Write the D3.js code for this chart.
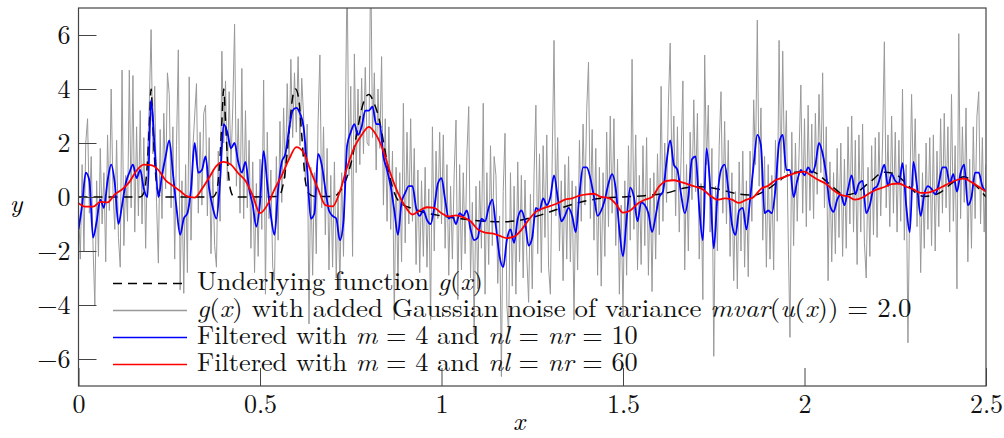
<!DOCTYPE html>
<html>
<head>
<meta charset="utf-8">
<script src="https://cdn.jsdelivr.net/npm/d3@7"></script>
<style>
body { margin: 0; background: #fff; }
text { white-space: pre; }
</style>
</head>
<body>
<div id="chart"></div>
<script>
// sample spacing of the three sampled series
var grayStep = 0.005, blueStep = 0.01, redStep = 0.02;

// g(x) with added noise (x = i * 0.005)
var grayValues = [
  -0.4, -2.3, 1.2, -2.0, 2.0, 2.9, -0.6, 1.5, -1.8, -4.0,
  0.6, -2.2, 1.8, -1.0, 0.9, -2.4, 2.3, -0.5, 4.0, 0.2,
  -1.2, 2.1, -1.5, -2.6, 4.7, -1.8, 0.8, -0.9, 4.7, -0.4,
  4.5, -1.3, 2.6, -0.7, 3.2, -1.0, 2.2, -1.9, 1.6, 3.4,
  6.2, 1.6, 4.1, -0.2, -2.45, 2.5, -0.8, 3.1, 0.3, 4.6,
  3.8, -0.4, 2.6, -2.3, 1.9, 5.45, -3.44, 0.6, -3.57, 1.2,
  -2.8, 4.45, -1.6, 1.8, 3.0, 4.2, -0.6, 2.4, -0.3, 3.1,
  3.4, -0.7, 2.2, -2.1, 1.0, -1.8, -2.6, 1.7, -0.9, 5.4,
  2.0, 4.3, 0.6, 3.9, 1.2, 3.3, 6.4, 0.4, 2.9, -0.6,
  4.76, -0.8, 3.2, -0.4, 2.1, -1.9, 1.3, -2.8, 0.5, -2.2,
  1.4, -1.2, 4.33, -3.6, 2.4, -0.8, 1.0, -2.6, -3.1, 1.5,
  -1.6, 2.8, -0.2, 3.3, 0.7, 4.2, 1.4, 5.1, 2.2, 4.6,
  2.4, 5.2, 1.9, 4.4, 3.0, 0.6, 2.7, -4.7, 1.1, -2.9,
  0.9, -2.1, 2.8, 5.26, -0.4, 2.6, -1.4, 1.8, -2.7, 0.8,
  -2.6, 1.3, -3.0, 0.2, -3.4, 0.9, -2.2, 2.4, 8.5, 0.8,
  4.1, -2.2, 5.3, 0.9, 4.0, 1.2, 4.4, 1.6, 4.8, 2.0,
  1.9, 9.0, 2.2, 4.6, 1.0, 4.0, 1.8, 5.2, -0.3, 2.9,
  -0.9, 2.6, -1.2, 1.7, -4.55, 1.1, -3.3, 0.9, -2.4, 3.47,
  -1.7, 2.4, -1.0, 2.9, -0.9, 1.8, -2.5, 1.0, -2.8, 0.6,
  -2.2, 1.1, -2.6, 0.3, -4.55, 2.6, -2.0, 1.7, -0.8, 2.4,
  -1.0, 2.3, -1.9, 1.2, -2.9, 0.4, -2.3, 0.9, 2.85, -3.8,
  1.2, -2.7, 0.9, -2.1, 1.6, 3.35, -3.0, -0.2, -5.05, 0.4,
  -3.4, 0.6, -1.9, 3.47, -3.6, 0.9, -2.5, 1.9, -1.8, 1.5,
  0.8, -3.2, -0.7, -6.65, 0.2, 2.36, -4.0, -5.05, 0.9, -3.3,
  0.4, -3.6, 1.3, -2.4, 0.8, -3.0, 0.63, -2.2, -3.9, 0.1,
  -3.4, 0.9, 3.4, -2.1, 1.6, -2.8, 1.9, -1.5, 2.3, -2.6,
  -3.6, 1.4, 5.8, -0.7, 2.2, -2.0, 0.6, -3.1, 1.2, -2.3,
  1.5, -2.4, 0.6, -4.55, 0.4, -2.7, 2.1, -0.9, 2.7, -0.3,
  3.2, 5.0, -0.8, 2.5, -1.6, 1.8, -2.9, 1.1, -3.3, 0.9,
  -2.2, 2.4, -1.1, 3.0, -0.6, 2.9, -1.8, 1.4, -3.6, -0.3,
  -4.4, 0.6, -2.9, 1.9, -1.6, 5.1, -1.2, 2.3, -2.7, 0.8,
  -2.5, 1.9, -1.8, 2.2, -2.9, 0.7, -3.5, 0.9, -2.3, 1.6,
  -1.4, 4.1, -0.9, 2.0, -0.2, 3.4, 5.7, 0.6, 3.0, -0.7,
  2.6, -1.3, 1.5, 4.3, -2.7, 1.2, -2.0, 2.4, -0.1, 3.6,
  0.2, 3.1, -2.3, 0.5, -3.8, 5.26, 1.2, 3.4, -1.3, 1.8,
  -5.9, 0.4, -2.0, 1.9, 3.9, -0.6, 2.8, -1.0, 2.1, -2.2,
  0.9, -3.1, 0.2, -3.4, 1.3, -2.0, 1.7, -2.6, 0.6, -2.95,
  1.7, -0.9, 3.6, 1.2, 6.55, 0.4, 3.3, -1.6, 1.5, -2.6,
  1.2, -2.3, 0.8, -2.7, 2.1, -0.9, 5.8, 0.6, 5.4, 0.9,
  3.2, -1.4, -5.2, 2.4, -1.8, 2.0, -0.9, 1.6, 4.15, -0.6,
  2.9, -1.1, 3.4, -0.5, 2.7, -0.8, 3.1, 0.1, 3.8, 0.9,
  4.6, -0.4, 2.6, -3.1, 1.3, -2.4, 0.9, -2.1, 1.8, -1.5,
  2.0, -2.2, 1.4, -1.9, 2.6, -1.0, 3.0, -1.3, 2.1, -2.5,
  2.3, -1.3, 2.7, -1.7, -3.0, 1.1, -2.2, 1.9, -1.4, 2.2,
  -1.5, 2.4, -0.7, 2.0, 5.75, -0.4, 2.3, -1.1, 3.0, -0.6,
  2.4, -1.3, 2.1, -0.9, 4.0, -1.6, 1.2, -5.4, 0.1, 3.8,
  0.4, 2.9, -1.1, 1.6, -2.8, 0.9, -1.9, 2.0, -1.2, 2.2,
  -1.8, 2.3, -2.0, 1.7, -1.1, 2.9, -0.6, 3.1, -0.4, 2.6,
  -1.3, 3.8, -0.9, 1.9, -3.4, 6.05, -0.8, 2.6, -0.2, 3.3,
  -2.4, 1.4, -1.9, 2.6, -0.8, 3.0, 3.9, -1.0, 2.2, -1.3,
  1.2
];

// filtered, m = 4, nl = nr = 10 (x = i * 0.01)
var blueValues = [
  -1.2, -0.3, 0.9, 0.6, -1.5, -0.9, -0.1, -0.4, 0.6, 1.2,
  0.5, -1.0, -0.3, 0.5, 0.9, 1.2, 0.7, 1.0, 0.3, 0.0,
  3.6, 1.8, 0.0, 0.8, 1.5, 2.1, 0.9, -0.4, -1.4, -0.8,
  -0.6, 0.3, 2.0, 0.9, 1.0, 1.5, 0.3, -0.4, -0.8, 0.6,
  2.7, 2.4, 1.8, 2.0, 1.3, 0.9, 1.3, 0.3, -0.3, -1.1,
  -0.2, 1.7, 0.5, -0.7, -1.4, 0.3, 1.3, 1.6, 2.5, 3.2,
  3.3, 3.1, 2.6, 1.0, -0.8, -0.6, 1.6, 1.2, 0.3, -0.5,
  -0.7, -0.8, -1.6, -0.9, 1.9, 2.4, 2.7, 2.3, 2.6, 3.2,
  3.2, 3.35, 2.7, 2.7, 1.5, 1.0, 0.4, -0.5, -1.4, -0.2,
  0.15, 0.4, 0.4, -0.4, -0.7, -0.5, -0.85, -1.0, -0.4, 0.5,
  0.7, -0.1, -0.8, -0.7, -1.0, -0.6, -0.7, -0.5, -1.2, -1.6,
  -1.5, -0.8, -0.9, -0.4, -0.1, -1.1, -2.2, -2.6, -1.6, -1.2,
  -1.7, -0.8, -0.5, -0.9, -1.8, -1.5, -0.4, -0.5, -0.05, -0.3,
  0.0, 0.8, 0.0, -0.9, -0.7, -0.4, -0.7, -1.3, 0.1, 1.1,
  1.1, 0.7, 0.0, -0.7, -0.5, -0.1, 0.5, 0.85, 0.3, -1.2,
  -2.2, -0.8, 0.35, 0.0, -0.9, -0.2, -0.3, -0.6, -1.3, -0.7,
  0.0, 0.2, 1.3, 2.1, 1.2, 1.0, 0.1, -0.6, 0.0, 1.4,
  1.5, -0.4, -1.6, 1.8, 0.4, -1.9, 0.0, 1.0, 1.2, 0.3,
  -1.0, -1.4, -0.5, -0.4, -1.2, -0.1, 1.2, 2.3, 1.9, -0.6,
  -0.5, -0.6, 0.3, 2.0, 2.3, 1.0, 1.0, 0.0, 0.6, 1.0,
  0.8, 1.1, 0.9, 1.2, 2.0, 1.6, 0.8, -0.3, -0.55, -0.1,
  0.1, -0.3, 0.3, 0.8, 0.1, 0.5, 0.6, -0.6, -0.3, 0.3,
  0.4, 0.8, 1.2, 0.4, 0.85, 0.6, 0.5, 1.25, -0.3, -1.3,
  1.3, 0.4, -0.7, 0.1, 0.4, 0.3, 0.1, 0.5, 1.1, 1.1,
  0.5, 0.85, 0.2, 0.9, 1.2, -0.3, 0.0, 0.9, 0.9, 0.4,
  0.2
];

// filtered, m = 4, nl = nr = 60 (x = i * 0.02)
var redValues = [
  -0.23, -0.36, -0.36, -0.18, -0.2, 0.1, 0.28, 0.55, 0.98, 1.2,
  1.18, 1.0, 0.62, 0.42, 0.22, 0.02, -0.02, 0.3, 0.72, 1.15,
  1.3, 1.2, 0.88, 0.6, 0.05, -0.6, -0.3, 0.28, 0.8, 1.4,
  1.85, 1.65, 0.95, 0.3, -0.3, -0.35, 0.2, 1.1, 1.85, 2.3,
  2.6, 2.3, 1.7, 0.85, 0.15, -0.35, -0.65, -0.5, -0.38, -0.4,
  -0.6, -0.72, -0.68, -0.75, -0.9, -1.2, -1.32, -1.35, -1.44, -1.52,
  -1.47, -1.22, -0.85, -0.55, -0.42, -0.33, -0.23, -0.1, -0.05, 0.05,
  0.1, 0.12, 0.0, -0.03, -0.25, -0.58, -0.5, -0.25, -0.1, 0.0,
  0.4, 0.6, 0.62, 0.55, 0.47, 0.38, 0.28, 0.05, -0.1, -0.05,
  -0.1, -0.22, -0.1, 0.0, 0.3, 0.42, 0.62, 0.72, 0.82, 0.9,
  0.94, 0.78, 0.62, 0.48, 0.25, 0.08, 0.02, -0.1, -0.02, 0.15,
  0.28, 0.37, 0.48, 0.5, 0.38, 0.28, 0.15, 0.16, 0.25, 0.38,
  0.52, 0.63, 0.68, 0.55, 0.38, 0.2
];

// underlying function g(x), read at these x positions
var gX = [0, 0.17, 0.178, 0.185, 0.19, 0.195, 0.2, 0.205, 0.21, 0.215, 0.222, 0.23,
  0.37, 0.378, 0.385, 0.39, 0.395, 0.4, 0.405, 0.41, 0.415, 0.422, 0.43,
  0.55, 0.56, 0.57, 0.58, 0.59, 0.598, 0.607, 0.615, 0.625, 0.635, 0.65,
  0.7, 0.72, 0.74, 0.755, 0.77, 0.785, 0.8, 0.815, 0.826, 0.844, 0.855, 0.865, 0.875, 0.89,
  0.92, 0.96, 1.0, 1.05, 1.1, 1.17, 1.22, 1.27, 1.32, 1.38, 1.44, 1.5, 1.56, 1.62,
  1.67, 1.71, 1.76, 1.81, 1.86, 1.9, 1.94, 1.98, 2.02, 2.05, 2.08, 2.11, 2.14,
  2.18, 2.22, 2.25, 2.28, 2.31, 2.33, 2.37, 2.41, 2.44, 2.47, 2.5];
var gY = [0, 0, 0.1, 0.5, 1.3, 2.6, 4.0, 2.6, 1.3, 0.5, 0.1, 0,
  0, 0.12, 0.6, 1.5, 2.8, 4.0, 2.8, 1.5, 0.6, 0.12, 0,
  0.02, 0.25, 1.0, 2.4, 3.7, 4.0, 3.6, 2.3, 0.6, 0.12, 0.02,
  0.02, 0.2, 0.75, 1.5, 2.6, 3.5, 3.8, 3.45, 3.0, 1.75, 0.9, 0.35, 0.0, -0.25,
  -0.43, -0.6, -0.7, -0.8, -0.88, -0.92, -0.85, -0.68, -0.45, -0.2, -0.05, 0.0, 0.05, 0.15,
  0.33, 0.38, 0.3, 0.13, 0.07, 0.3, 0.7, 0.93, 0.94, 0.7, 0.35, 0.08, 0.15,
  0.55, 0.92, 0.85, 0.5, 0.12, 0.02, 0.14, 0.55, 0.75, 0.45, 0.0];

var xTicks = [0, 0.5, 1, 1.5, 2, 2.5];
var xTickLabels = ["0", "0.5", "1", "1.5", "2", "2.5"];
var yTicks = [-6, -4, -2, 0, 2, 4, 6];
var yTickLabels = ["\u22126", "\u22124", "\u22122", "0", "2", "4", "6"];

var width = 1004, height = 438;
var fontFamily = "Latin Modern Roman, Liberation Serif, serif";
var fontSize = 26;

var x = d3.scaleLinear().domain([0, 2.5]).range([78.5, 986]);
var y = d3.scaleLinear().domain([-7, 7]).range([386, 8]);

var svg = d3.select("#chart")
	.append("svg")
	.attr("width", width)
	.attr("height", height)

svg.append("defs").append("clipPath")
	.attr("id", "plotclip")
	.append("rect")
	.attr("x", x(0))
	.attr("y", y(7))
	.attr("width", x(2.5) - x(0))
	.attr("height", y(-7) - y(7))

var gray = grayValues.map((v, i) => [i * grayStep, v]);
var blue = blueValues.map((v, i) => [i * blueStep, v]);
var red = redValues.map((v, i) => [i * redStep, v]);
var under = gX.map((v, i) => [v, gY[i]]);

var straight = d3.line().x(d => x(d[0])).y(d => y(d[1]));
var smooth = d3.line().x(d => x(d[0])).y(d => y(d[1])).curve(d3.curveMonotoneX);

var plot = svg.append("g").attr("clip-path", "url(#plotclip)");

plot.append("path")
	.datum(gray)
	.attr("d", straight)
	.attr("fill", "none")
	.attr("stroke", "#999")
	.attr("stroke-width", 1)

plot.append("path")
	.datum(under)
	.attr("d", smooth)
	.attr("fill", "none")
	.attr("stroke", "#000")
	.attr("stroke-width", 1.5)
	.attr("stroke-dasharray", "9,6")

plot.append("path")
	.datum(blue)
	.attr("d", smooth)
	.attr("fill", "none")
	.attr("stroke", "#0000ff")
	.attr("stroke-width", 1.8)
	.attr("stroke-linejoin", "round")

plot.append("path")
	.datum(red)
	.attr("d", smooth)
	.attr("fill", "none")
	.attr("stroke", "#ff0000")
	.attr("stroke-width", 1.8)
	.attr("stroke-linejoin", "round")

// axes: inward ticks on left and bottom only
svg.append("g")
	.attr("transform", "translate(0," + y(-7) + ")")
	.call(d3.axisBottom(x).tickValues(xTicks).tickFormat((d, i) => xTickLabels[i]).tickSize(-18).tickPadding(9))
	.call(g => g.select(".domain").remove())
	.call(g => g.selectAll("line").attr("stroke", "#444"))
	.call(g => g.selectAll("text").attr("fill", "#111").attr("font-family", fontFamily).attr("font-size", fontSize))

svg.append("g")
	.attr("transform", "translate(" + x(0) + ",0)")
	.call(d3.axisLeft(y).tickValues(yTicks).tickFormat((d, i) => yTickLabels[i]).tickSize(-18).tickPadding(8))
	.call(g => g.select(".domain").remove())
	.call(g => g.selectAll("line").attr("stroke", "#444"))
	.call(g => g.selectAll("text").attr("fill", "#111").attr("font-family", fontFamily).attr("font-size", fontSize))

svg.append("rect")
	.attr("x", x(0))
	.attr("y", y(7))
	.attr("width", x(2.5) - x(0))
	.attr("height", y(-7) - y(7))
	.attr("fill", "none")
	.attr("stroke", "#444")
	.attr("stroke-width", 1.2)

// axis labels
svg.append("text")
	.attr("x", 519).attr("y", 430)
	.attr("text-anchor", "middle")
	.attr("font-family", fontFamily)
	.attr("font-size", fontSize).attr("font-style", "italic")
	.text("x")

svg.append("text")
	.attr("x", 16).attr("y", 212)
	.attr("text-anchor", "middle")
	.attr("font-family", fontFamily)
	.attr("font-size", fontSize).attr("font-style", "italic")
	.text("y")

// legend (no box, drawn over the data); textW = width of each entry in the reference
var legendRows = [
	{ ly: 283.5, color: "#000", w: 1.5, dash: "9,6", textW: 286,
	  parts: [["Underlying function ", 0], ["g", 1], ["(", 0], ["x", 1], [")", 0]] },
	{ ly: 310.5, color: "#999", w: 1.4, dash: null, textW: 715,
	  parts: [["g", 1], ["(", 0], ["x", 1], [") with added Gaussian noise of variance ", 0], ["mvar", 1], ["(", 0], ["u", 1], ["(", 0], ["x", 1], ["))", 0], [" = 2.0", 0]] },
	{ ly: 337.5, color: "#0000ff", w: 1.6, dash: null, textW: 441,
	  parts: [["Filtered with ", 0], ["m", 1], [" = 4 and ", 0], ["nl", 1], [" = ", 0], ["nr", 1], [" = 10", 0]] },
	{ ly: 364.5, color: "#ff0000", w: 1.6, dash: null, textW: 441,
	  parts: [["Filtered with ", 0], ["m", 1], [" = 4 and ", 0], ["nl", 1], [" = ", 0], ["nr", 1], [" = 60", 0]] }
];

legendRows.forEach(function(row) {
	svg.append("line")
		.attr("x1", 113).attr("x2", 187)
		.attr("y1", row.ly).attr("y2", row.ly)
		.attr("stroke", row.color)
		.attr("stroke-width", row.w)
		.attr("stroke-dasharray", row.dash)

	var t = svg.append("text")
		.attr("font-family", fontFamily)
		.attr("font-size", fontSize)
		.attr("fill", "#111")
	row.parts.forEach(function(p) {
		t.append("tspan")
			.attr("font-style", p[1] ? "italic" : "normal")
			.text(p[0])
	})
	var natural = t.node().getComputedTextLength();
	var sx = natural > 0 ? row.textW / natural : 1;
	t.attr("transform", "translate(197," + (row.ly + 6.5) + ") scale(" + sx + ",1)")
});
</script>
</body>
</html>
